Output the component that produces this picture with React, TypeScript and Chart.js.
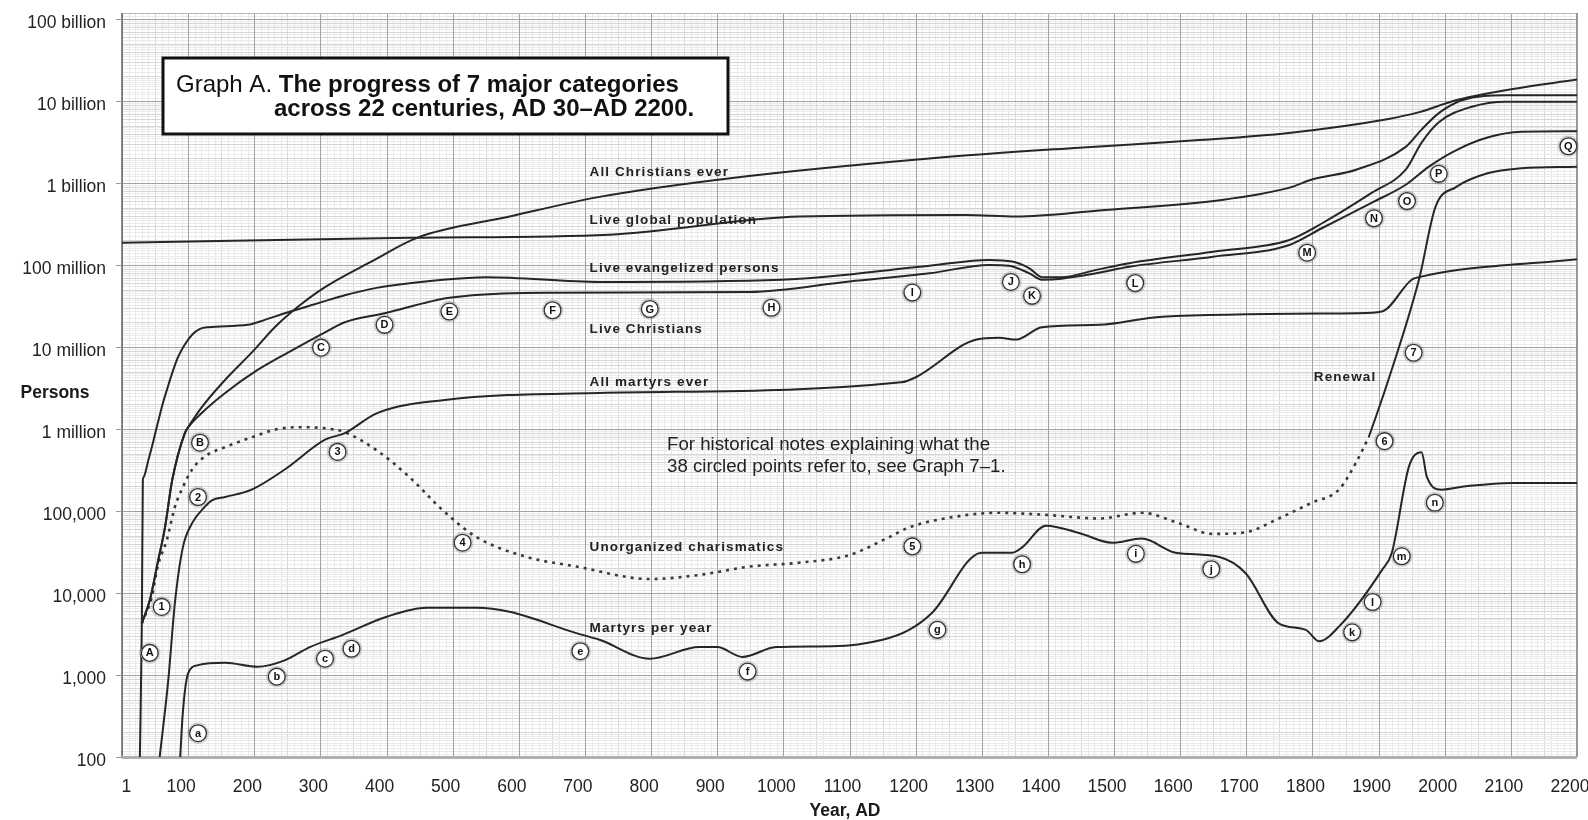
import React, { useEffect, useRef } from 'react';
import { Chart, registerables } from 'chart.js';

Chart.register(...registerables);

const FONT = '"Liberation Sans", Arial, Helvetica, sans-serif';

// ---- axes ----
const yearTicks = [0, 100, 200, 300, 400, 500, 600, 700, 800, 900, 1000, 1100, 1200, 1300, 1400, 1500, 1600, 1700, 1800, 1900, 2000, 2100, 2200];
const yearTickLabels = ['\u2007\u2007\u20091', '100', '200', '300', '400', '500', '600', '700', '800', '900', '1000', '1100', '1200', '1300', '1400', '1500', '1600', '1700', '1800', '1900', '2000', '2100', '2200'];
const personTicks = [1e2, 1e3, 1e4, 1e5, 1e6, 1e7, 1e8, 1e9, 1e10, 1e11];
const personTickLabels = ['100', '1,000', '10,000', '100,000', '1 million', '10 million', '100 million', '1 billion', '10 billion', '100 billion'];

// ---- series: [year, persons] ----
const allChristiansEver: [number, number][] = [
  [30, 4266], [42, 8128], [54, 23440], [65, 63096], [76, 239883], [95, 891251], [100, 1047129],
  [121, 1.86e6], [156, 3.98e6], [196, 8.51e6], [231, 1.74e7], [266, 3.09e7], [307, 5.37e7], [379, 1.12e8],
  [446, 2.14e8], [586, 3.89e8], [722, 6.76e8], [923, 1.15e9], [1225, 2.0e9], [1447, 2.69e9], [1624, 3.31e9],
  [1764, 4.07e9], [1915, 6.03e9], [1960, 7.24e9], [2017, 1.02e10], [2092, 1.35e10], [2200, 1.82e10],
];
const liveGlobalPopulation: [number, number][] = [
  [0, 1.86e8], [435, 2.14e8], [737, 2.34e8], [1024, 3.89e8], [1276, 4.07e8], [1352, 3.89e8], [1477, 4.6e8],
  [1663, 6.2e8], [1764, 8.7e8], [1799, 1.1e9], [1866, 1.45e9], [1941, 2.75e9], [1965, 4.47e9], [1991, 7.1e9],
  [2026, 1.02e10], [2092, 1.17e10], [2200, 1.17e10],
];
const liveEvangelized: [number, number][] = [
  [27, 100], [30, 4266], [31.5, 2.4e5], [32.3, 2.55e5], [40, 4.2e5], [47, 6.9e5], [54, 1.17e6], [61, 1.95e6], [69, 3.2e6],
  [77, 5.1e6], [85, 7.6e6], [95, 1.07e7], [106, 1.41e7], [118, 1.66e7], [130, 1.74e7],
  [190, 1.86e7], [216, 2.14e7], [246, 2.57e7], [287, 3.24e7], [337, 4.27e7], [385, 5.25e7], [485, 6.6e7],
  [551, 7.1e7], [722, 6.2e7], [998, 6.6e7], [1221, 9.8e7], [1311, 1.15e8], [1346, 1.1e8], [1372, 9.1e7],
  [1391, 7.1e7], [1421, 7.1e7], [1473, 8.7e7], [1523, 1.05e8], [1650, 1.45e8], [1764, 2.0e8], [1814, 3.2e8],
  [1890, 7.6e8], [1941, 1.45e9], [1965, 3.1e9], [1991, 5.5e9], [2041, 8.5e9], [2092, 9.8e9], [2200, 9.8e9],
];
const liveChristians: [number, number][] = [
  [30, 4266], [42, 8128], [54, 23440], [65, 63096], [76, 239883], [95, 891251], [100, 1047129],
  [121, 1.58e6], [156, 2.75e6], [205, 5.25e6], [257, 9.1e6], [307, 1.51e7], [337, 2.0e7], [397, 2.57e7],
  [495, 3.98e7], [651, 4.57e7], [949, 4.68e7], [1100, 6.3e7], [1221, 7.9e7], [1311, 1.0e8], [1341, 9.8e7],
  [1372, 7.9e7], [1391, 6.6e7], [1421, 6.8e7], [1473, 7.9e7], [1523, 9.5e7], [1650, 1.26e8], [1764, 1.74e8],
  [1814, 2.8e8], [1890, 5.75e8], [1941, 9.5e8], [1976, 1.58e9], [2017, 2.5e9], [2066, 3.6e9], [2116, 4.2e9],
  [2200, 4.27e9],
];
const allMartyrsEver: [number, number][] = [
  [57, 100], [70, 870], [80, 7600], [92, 36000], [106, 71000], [125, 1.12e5], [136, 1.35e5], [156, 1.48e5],
  [196, 1.82e5], [246, 3.2e5], [307, 7.4e5], [337, 8.9e5], [385, 1.55e6], [485, 2.24e6], [722, 2.75e6],
  [1178, 3.7e6], [1201, 4.3e6], [1292, 1.23e7], [1326, 1.29e7], [1352, 1.23e7], [1391, 1.74e7], [1477, 1.86e7],
  [1573, 2.34e7], [1866, 2.57e7], [1905, 2.7e7], [1950, 6.6e7], [1961, 7.1e7], [2200, 1.17e8],
];
const unorganizedCharismatics: [number, number][] = [
  [30, 4266], [45, 8900], [54, 21000], [68, 45000], [80, 1.12e5], [92, 1.95e5], [106, 3.2e5], [125, 4.6e5],
  [156, 6.0e5], [196, 7.9e5], [231, 9.8e5], [266, 1.05e6], [307, 1.02e6], [337, 9.1e5], [385, 5.5e5],
  [435, 2.57e5], [485, 1.02e5], [536, 48000], [612, 27500], [687, 21000], [798, 14800], [873, 16600],
  [949, 21000], [1024, 23400], [1100, 29000], [1160, 48000], [1190, 63000], [1276, 89000], [1326, 95000],
  [1402, 89000], [1477, 81000], [1542, 95000], [1598, 71000], [1648, 52500], [1699, 55000], [1749, 81000],
  [1799, 1.26e5], [1840, 1.82e5], [1866, 3.9e5], [1885, 7.9e5],
];
const renewal: [number, number][] = [
  [1885, 7.9e5], [1911, 3.2e6], [1961, 6.6e7], [1986, 5.1e8], [2017, 8.9e8], [2066, 1.32e9], [2116, 1.51e9],
  [2200, 1.58e9],
];
const martyrsPerYear: [number, number][] = [
  [88, 100], [92, 350], [100, 1050], [115, 1320], [156, 1410], [205, 1260], [246, 1510], [284, 2190],
  [334, 3090], [400, 5130], [461, 6610], [536, 6610], [586, 5890], [687, 3240], [722, 2690], [798, 1580],
  [873, 2190], [900, 2190], [938, 1660], [989, 2190], [1074, 2240], [1150, 2690], [1190, 3550], [1225, 5750],
  [1300, 31000], [1346, 31000], [1361, 36000], [1397, 66000], [1447, 54000], [1497, 41000], [1542, 46000],
  [1593, 31000], [1659, 27500], [1699, 17400], [1749, 4270], [1790, 3550], [1810, 2570], [1840, 3890],
  [1905, 19000], [1920, 31000], [1946, 3.5e5], [1965, 5.2e5], [1973, 2.6e5], [1995, 1.82e5], [2032, 2.0e5],
  [2101, 2.2e5], [2200, 2.2e5],
];

// ---- text on the curves ----
const curveLabelTexts = ['All Christians ever', 'Live global population', 'Live evangelized persons', 'Live Christians', 'All martyrs ever', 'Unorganized charismatics', 'Martyrs per year', 'Renewal'];
const curveLabelYears = [707, 707, 707, 707, 707, 707, 707, 1802];
const curveLabelValues = [1.35e9, 3.55e8, 9.1e7, 1.62e7, 3.7e6, 3.6e4, 3.7e3, 4.3e6];

// ---- 38 circled points ----
const circledTexts = ['A', '1', 'B', '2', '3', 'C', 'D', 'E', 'F', 'G', 'H', 'I', 'J', 'K', 'L', 'M', 'N', 'O', 'P', 'Q',
  'a', 'b', 'c', 'd', '4', 'e', 'f', '5', 'g', 'h', 'i', 'j', 'k', 'l', 'm', 'n', '6', '7'];
const circledYears = [42, 60, 118, 115, 326, 301, 397, 495, 651, 798, 982, 1195, 1344, 1376, 1532, 1792, 1893, 1943, 1991, 2187,
  115, 234, 307, 347, 515, 693, 946, 1195, 1233, 1361, 1533, 1647, 1860, 1891, 1935, 1985, 1909, 1953];
const circledValues = [1860, 6760, 6.8e5, 1.48e5, 5.25e5, 9.8e6, 1.86e7, 2.7e7, 2.8e7, 2.9e7, 3.0e7, 4.6e7, 6.2e7, 4.2e7, 6.0e7, 1.41e8, 3.7e8, 6.0e8, 1.29e9, 2.8e9,
  195, 955, 1580, 2090, 41000, 1950, 1100, 37000, 3550, 22400, 30000, 19500, 3310, 7760, 28000, 1.26e5, 7.1e5, 8.5e6];

const titleNormal = 'Graph A. ';
const titleBold1 = 'The progress of 7 major categories';
const titleBold2 = 'across 22 centuries, AD 30\u2013AD 2200.';
const noteLines = ['For historical notes explaining what the', '38 circled points refer to, see Graph 7\u20131.'];

const toXY = (arr: [number, number][]) => arr.map(([x, y]) => ({ x, y }));

const paperGrid = {
  id: 'paperGrid',
  beforeDatasetsDraw(chart: any) {
    const { ctx, chartArea: a, scales } = chart;
    const x = scales.x, y = scales.y;
    ctx.save();
    ctx.beginPath();
    ctx.rect(a.left, a.top, a.right - a.left, a.bottom - a.top);
    ctx.clip();
    ctx.lineWidth = 1;
    for (let yr = 0; yr <= 2200; yr += 10) {
      if (yr % 100 === 0) continue;
      const px = Math.round(x.getPixelForValue(yr)) + 0.5;
      ctx.strokeStyle = yr % 50 === 0 ? '#d6d6d6' : '#e9e9e9';
      ctx.beginPath(); ctx.moveTo(px, a.top); ctx.lineTo(px, a.bottom); ctx.stroke();
    }
    for (let e = 2; e <= 11; e++) {
      const base = Math.pow(10, e);
      const mults: number[] = [];
      for (let k = 11; k <= 19; k++) mults.push(k / 10);
      for (let k = 8; k <= 19; k++) mults.push(k / 4);
      for (let k = 10; k <= 19; k++) mults.push(k / 2);
      mults.forEach((m) => {
        const v = base * m;
        const py = Math.round(y.getPixelForValue(v)) + 0.5;
        if (py < a.top || py > a.bottom) return;
        ctx.strokeStyle = Number.isInteger(m) ? '#d5d5d5' : '#eaeaea';
        ctx.beginPath(); ctx.moveTo(a.left, py); ctx.lineTo(a.right, py); ctx.stroke();
      });
    }
    ctx.strokeStyle = '#a2a2a2';
    yearTicks.forEach((yr) => {
      const px = Math.round(x.getPixelForValue(yr)) + 0.5;
      ctx.beginPath(); ctx.moveTo(px, a.top); ctx.lineTo(px, a.bottom); ctx.stroke();
    });
    personTicks.forEach((v) => {
      const py = Math.round(y.getPixelForValue(v)) + 0.5;
      ctx.beginPath(); ctx.moveTo(a.left, py); ctx.lineTo(a.right, py); ctx.stroke();
    });
    ctx.restore();

    ctx.save();
    ctx.strokeStyle = '#b8b8b8';
    ctx.lineWidth = 1;
    ctx.beginPath(); ctx.moveTo(a.left, a.top + 0.5); ctx.lineTo(a.right, a.top + 0.5); ctx.stroke();
    ctx.strokeStyle = '#777';
    ctx.lineWidth = 1.5;
    ctx.beginPath(); ctx.moveTo(a.right, a.top); ctx.lineTo(a.right, a.bottom); ctx.stroke();
    ctx.strokeStyle = '#666';
    ctx.beginPath(); ctx.moveTo(a.left, a.top); ctx.lineTo(a.left, a.bottom); ctx.stroke();
    ctx.strokeStyle = '#b0b0b0';
    ctx.lineWidth = 3;
    ctx.beginPath(); ctx.moveTo(a.left, a.bottom + 0.5); ctx.lineTo(a.right, a.bottom + 0.5); ctx.stroke();
    ctx.strokeStyle = '#999';
    ctx.lineWidth = 1;
    personTicks.forEach((v) => {
      const py = Math.round(y.getPixelForValue(v)) + 0.5;
      ctx.beginPath(); ctx.moveTo(a.left - 6, py); ctx.lineTo(a.left, py); ctx.stroke();
    });
    ctx.restore();
  },
};

const annotations = {
  id: 'annotations',
  afterDatasetsDraw(chart: any) {
    const { ctx, scales } = chart;
    const x = scales.x, y = scales.y;
    ctx.save();

    ctx.font = `bold 13.5px ${FONT}`;
    ctx.fillStyle = '#222';
    ctx.textAlign = 'left';
    ctx.textBaseline = 'middle';
    (ctx as any).letterSpacing = '1.1px';
    curveLabelTexts.forEach((t, i) => {
      ctx.fillText(t, x.getPixelForValue(curveLabelYears[i]), y.getPixelForValue(curveLabelValues[i]));
    });
    (ctx as any).letterSpacing = '0px';

    circledTexts.forEach((t, i) => {
      const px = x.getPixelForValue(circledYears[i]);
      const py = y.getPixelForValue(circledValues[i]);
      ctx.beginPath();
      ctx.arc(px, py, 9.2, 0, Math.PI * 2);
      ctx.fillStyle = '#fff';
      ctx.fill();
      ctx.lineWidth = 3;
      ctx.strokeStyle = 'rgba(0,0,0,0.16)';
      ctx.stroke();
      ctx.beginPath();
      ctx.arc(px, py, 8.4, 0, Math.PI * 2);
      ctx.lineWidth = 1.3;
      ctx.strokeStyle = '#333';
      ctx.stroke();
      ctx.fillStyle = '#111';
      ctx.font = `bold 11px ${FONT}`;
      ctx.textAlign = 'center';
      ctx.textBaseline = 'middle';
      ctx.fillText(t, px, py + 0.5);
    });

    const bx = 163, by = 58, bw = 565, bh = 76;
    ctx.fillStyle = '#fff';
    ctx.fillRect(bx, by, bw, bh);
    ctx.lineWidth = 3;
    ctx.strokeStyle = '#111';
    ctx.strokeRect(bx, by, bw, bh);
    ctx.fillStyle = '#111';
    ctx.textAlign = 'left';
    ctx.textBaseline = 'alphabetic';
    ctx.font = `24px ${FONT}`;
    ctx.fillText(titleNormal, 176, 92);
    const w = ctx.measureText(titleNormal).width;
    ctx.font = `bold 24px ${FONT}`;
    ctx.fillText(titleBold1, 176 + w, 92);
    ctx.fillText(titleBold2, 274, 116);

    ctx.font = `18.7px ${FONT}`;
    ctx.fillStyle = '#222';
    ctx.fillText(noteLines[0], 667, 450);
    ctx.fillText(noteLines[1], 667, 472);

    ctx.font = `bold 17.5px ${FONT}`;
    ctx.fillStyle = '#1a1a1a';
    ctx.textAlign = 'center';
    ctx.textBaseline = 'middle';
    ctx.fillText('Persons', 55, 393);
    ctx.fillText('Year, AD', 845, 811);
    ctx.restore();
  },
};

const common = {
  borderColor: '#262626',
  borderWidth: 2,
  pointRadius: 0,
  fill: false,
  tension: 0.4,
  cubicInterpolationMode: 'monotone' as const,
};

export default function App() {
  const ref = useRef<HTMLCanvasElement>(null);
  useEffect(() => {
    document.body.style.margin = '0';
    const chart = new Chart(ref.current as HTMLCanvasElement, {
      type: 'line',
      data: {
        datasets: [
          { label: 'All Christians ever', data: toXY(allChristiansEver), ...common },
          { label: 'Live global population', data: toXY(liveGlobalPopulation), ...common },
          { label: 'Live evangelized persons', data: toXY(liveEvangelized), ...common },
          { label: 'Live Christians', data: toXY(liveChristians), ...common },
          { label: 'All martyrs ever', data: toXY(allMartyrsEver), ...common },
          { label: 'Unorganized charismatics', data: toXY(unorganizedCharismatics), ...common, borderColor: '#3a3a3a', borderWidth: 2.6, borderDash: [3, 5] },
          { label: 'Renewal', data: toXY(renewal), ...common },
          { label: 'Martyrs per year', data: toXY(martyrsPerYear), ...common },
        ] as any,
      },
      options: {
        animation: false,
        responsive: false,
        devicePixelRatio: 1,
        events: [],
        layout: { padding: { top: 13, right: 11, bottom: 0, left: 0 } },
        plugins: { legend: { display: false }, tooltip: { enabled: false } },
        scales: {
          x: {
            type: 'linear',
            min: 0,
            max: 2200,
            grid: { display: false, drawTicks: false },
            border: { display: false },
            afterBuildTicks: (s: any) => { s.ticks = yearTicks.map((v) => ({ value: v })); },
            afterFit: (s: any) => { s.height = 63; s.paddingLeft = 0; s.paddingRight = 0; },
            ticks: {
              autoSkip: false,
              maxRotation: 0,
              padding: 20,
              labelOffset: -7,
              color: '#222',
              font: { family: FONT, size: 17.5 },
              callback: (_v: any, i: number) => yearTickLabels[i],
            },
          },
          y: {
            type: 'logarithmic',
            min: 100,
            max: 1.18e11,
            grid: { display: false, drawTicks: false },
            border: { display: false },
            afterBuildTicks: (s: any) => { s.ticks = personTicks.map((v) => ({ value: v })); },
            afterFit: (s: any) => { s.width = 122; s.paddingTop = 0; s.paddingBottom = 0; },
            ticks: {
              autoSkip: false,
              padding: 16,
              labelOffset: 4,
              color: '#222',
              font: { family: FONT, size: 17.5 },
              callback: (_v: any, i: number) => personTickLabels[i],
            },
          },
        },
      } as any,
      plugins: [paperGrid, annotations],
    });
    return () => chart.destroy();
  }, []);
  return (
    <div style={{ width: 1588, height: 820 }}>
      <canvas ref={ref} width={1588} height={820} style={{ display: 'block', width: 1588, height: 820 }} />
    </div>
  );
}
